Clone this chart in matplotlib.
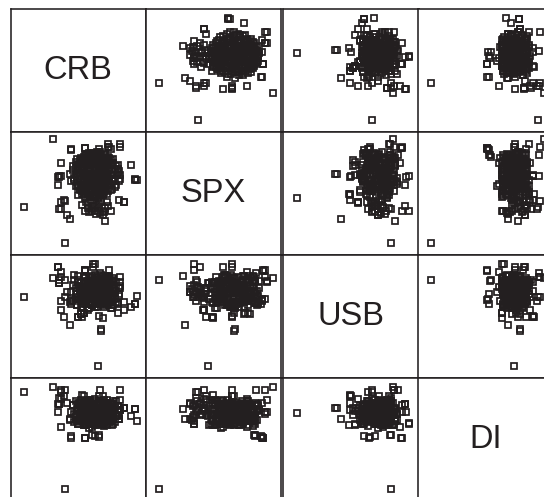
import matplotlib
matplotlib.use("Agg")
import matplotlib.pyplot as plt

names = ["CRB", "SPX", "USB", "DI"]

# values read as percent of each panel's range
crb_outer = [10,40,64.5,93,92,92,89,81,72.5,72, 74.5,31.5,70,44,41.5,37.5,39.5,36,36,37,
             68.5,84,80,67,61,35,55,37.5,81,67, 65,68.5,54,79,84,55,55,45,65,37,
             40,66,68.5,52.5,36,35,52,52,49.5,50, 57,45,54,58,60,62,60,65,62,61, 60,54,72]
spx_outer = [39,10,46,61,61,62,73,90,88,90, 86,94,27.5,29,32.5,43,45,63.5,64,64,
             32.5,43,45,65.5,64,63.5,35.5,75,88,66, 64,50,75.5,73.5,43,87,87,86,80,37,
             43.5,81.5,65,50,37,57,77,72.5,63.5,49, 42.5,85,64,56,36,81,81,86,36,40, 57.5,65,88]
usb_outer = [65.5,80,10,67,60,60,58,78,87.5,79, 63,81,83,43,70,55,49.5,77,77,82,
             70,62,73,38.5,93,90.5,88,86,82,39.5, 50.5,49,53,53,55,87.5,87,63.5,80,63,
             65.5,85,71,49.5,80,90,52,52,49.5,49.5, 55,60,78,70,68,68,79,64,93,90, 74,53,64]
di_outer = [89,10,71.5,65,75,75,69,82,72,72, 80,93,74.5,67,79.5,83,85.5,78.5,78.5,90,
            79,76,70,76,63.5,72,78,60,90.5,76, 85.5,62,62,73,76,51.5,51,51.5,54,88.5,
            90.5,90,85.5,86,83.5,78.5,70,76,74,80, 73,53,85,59,63,53,53.5,52,62.5,79, 60,62.5,71]

crb_lobe = [58,60,62,64,66,68,70,56,59,63,65,67,72,55,61,69,57,74,53,71]
spx_lobe = [35,37,39,41,34,36,38,43,45,33,42,44,40,46,47,35,38,36,41,43]
usb_lobe = [66,70,74,68,72,76,78,65,71,75,67,73,69,77,64,70,74,66,72,68]
di_lobe = [68,72,76,80,66,70,74,78,82,67,71,75,79,69,73,77,81,65,70,74]

crb_core = [45,44,46,48,47,49,48,48,51,50,
            52,51,50,51,52,54,53,55,54,54,
            53,54,55,57,56,58,57,57,56,58,
            57,56,58,60,59,61,60,60,59,61,
            60,59,61,63,62,64,63,63,62,64,
            63,62,64,66,65,67,66,66,65,67,
            66,65,69,68,70,69,69,68,70,69,
            69,72,71,73,72,72,71,73,72,75,
            74,76,75,75,74,76,78,77,79,78,
            81,80,47,46,50,49,51,50,50,49,
            53,52,54,53,53,52,54,56,55,57,
            56,55,57,56,55,57,59,58,60,59,
            58,60,59,59,58,60,62,61,63,62,
            61,63,62,62,61,63,65,64,66,65,
            64,66,65,65,64,66,68,67,69,68,
            67,69,68,68,67,71,70,72,71,71,
            70,72,71,70,74,73,75,74,73,75,
            74,73,77,76,78,77,76,80,81,79]
spx_core = [60,66,72,56,61,66,71,76,53,57,
            62,67,72,77,79,50,54,59,64,69,
            74,78,81,50,53,57,61,65,69,73,
            77,81,83,49,52,56,60,64,68,72,
            76,80,83,49,53,57,61,65,69,73,
            77,81,84,50,54,58,62,66,70,74,
            78,82,51,55,59,63,67,71,75,79,
            82,52,56,60,64,68,72,76,80,54,
            58,62,66,70,74,78,57,62,67,72,
            62,68,63,69,55,59,64,69,74,78,
            52,56,61,66,71,76,80,51,55,59,
            63,67,71,75,79,82,48,51,54,58,
            62,66,70,74,78,82,47,51,55,59,
            63,67,71,75,79,83,48,52,56,60,
            64,68,72,76,80,84,49,53,57,61,
            65,69,73,77,81,50,54,58,62,66,
            70,74,78,81,53,57,61,65,69,73,
            77,79,55,60,65,70,75,60,65,70]
usb_core = [70,62,76,66,80,59,73,68,64,78,
            58,72,83,71,63,77,67,81,60,74,
            69,65,79,61,75,82,68,57,72,64,
            76,70,60,78,66,73,83,62,69,80,
            59,74,67,77,63,71,65,81,58,75,
            68,61,79,72,64,84,70,60,76,66,
            73,62,78,69,82,58,75,67,80,63,
            71,65,77,59,74,61,68,83,70,79,
            64,72,57,76,66,81,62,69,60,78,
            73,67,84,63,75,59,71,65,80,68,
            61,77,70,58,74,64,82,72,66,79,
            60,69,76,63,83,67,73,57,78,71,
            65,81,62,75,68,59,77,70,64,84,
            72,60,79,66,74,61,69,82,63,76,
            58,71,67,80,65,73,62,78,70,59,
            75,64,83,68,61,77,72,66,81,60,
            74,63,70,79,57,76,65,69,82,62,
            67,78,71,59,73,64,80,68,75,61]
di_core = [72,66,78,70,64,75,81,68,73,63,
           77,71,67,79,69,65,76,80,74,62,
           72,78,68,75,64,70,82,66,73,77,
           69,63,79,71,67,76,65,74,80,68,
           72,64,77,70,81,66,75,62,73,78,
           69,67,74,80,65,71,76,63,79,68,
           73,66,82,70,75,64,77,69,72,61,
           78,67,74,65,80,71,63,76,68,73,
           66,79,70,62,75,72,81,64,77,69,
           74,67,71,78,63,73,80,66,76,65,
           70,82,68,74,64,77,72,62,79,69,
           75,66,71,81,67,73,63,78,70,65,
           76,72,64,80,68,74,62,79,71,66,
           77,69,73,83,65,75,70,63,78,67,
           72,76,64,81,68,74,66,71,79,63,
           75,70,65,77,72,82,67,73,62,78,
           69,74,66,80,71,64,76,68,73,79,
           65,72,77,63,70,75,81,67,74,69]

series = [crb_outer + crb_lobe + crb_core,
          spx_outer + spx_lobe + spx_core,
          usb_outer + usb_lobe + usb_core,
          di_outer + di_lobe + di_core]

W, H = 544, 497
INK = "#231f20"
col_left = [10.5, 145.5, 283.0, 417.5]
row_top = [9.0, 132.0, 255.0, 378.0]
pw, ph = 135.5, 123.0

plt.rcParams["font.family"] = ["Liberation Sans", "DejaVu Sans"]
fig = plt.figure(figsize=(W / 100, H / 100), dpi=100, facecolor="white")

for r in range(4):
    for c in range(4):
        ax = fig.add_axes([col_left[c] / W, 1 - (row_top[r] + ph) / H, pw / W, ph / H])
        ax.set_xlim(0, 100)
        ax.set_ylim(0, 100)
        ax.set_xticks([])
        ax.set_yticks([])
        for s in ax.spines.values():
            s.set_linewidth(1.15)
            s.set_color(INK)
        if r == c:
            ax.text(50, 50, names[r], ha="center", va="center", fontsize=23.5, color=INK)
        else:
            ax.plot(series[c], series[r], ls="none", marker="s", ms=4.5, mew=1.25,
                    mfc="none", mec=INK)

fig.savefig("out.png", dpi=100)
